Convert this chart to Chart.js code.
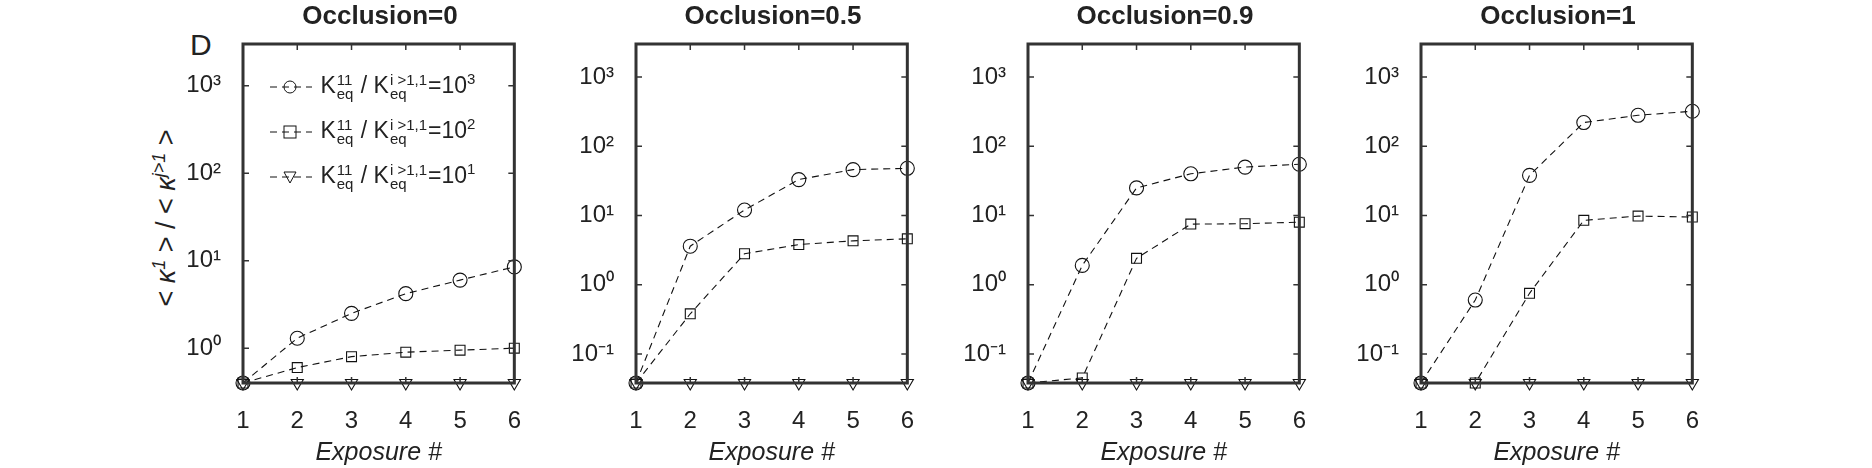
<!DOCTYPE html>
<html><head><meta charset="utf-8">
<script src="https://cdn.jsdelivr.net/npm/chart.js@4"></script>
<style>
body{margin:0;width:1872px;height:468px;background:#fff;position:relative;overflow:hidden;font-family:"Liberation Sans",Arial,sans-serif;color:#222}
.pan{position:absolute;top:0;width:404px;height:468px}
.ttl{position:absolute;top:0;font-weight:bold;font-size:26px;text-align:center;width:274px}
.leg{position:absolute;left:268px;font-size:23px;white-space:nowrap;line-height:32px}
.leg svg{vertical-align:middle}
.st{display:inline-flex;flex-direction:column;vertical-align:middle;font-size:15px;line-height:14px;margin:0 1px}
sup{font-size:15px;line-height:0}
</style></head><body>
<div style="position:absolute;left:190px;top:28px;font-size:30px">D</div>
<div style="position:absolute;left:166px;top:218px;transform:translate(-50%,-50%) rotate(-90deg);font-size:27px;white-space:nowrap">&lt; <i>κ</i><sup style="font-size:18px"><i>1</i></sup> &gt; / &lt; <i>κ</i><sup style="font-size:18px"><i>j&gt;1</i></sup> &gt;</div>
<script>
const exposure=[1,2,3,4,5,6];
const titles=["Occlusion=0","Occlusion=0.5","Occlusion=0.9","Occlusion=1"];
const yMin=[0.4,0.038,0.038,0.038];
const yMax=3000;
const yTicks=[[1,10,100,1000],[0.1,1,10,100,1000],[0.1,1,10,100,1000],[0.1,1,10,100,1000]];
const ratio1000=[[0.4,1.3,2.5,4.2,6,8.5],[0.038,3.6,12,33,46,48],[0.038,1.9,25,40,50,55],[0.038,0.6,38,220,280,320]];
const ratio100=[[0.4,0.6,0.8,0.9,0.95,1.0],[0.038,0.38,2.8,3.8,4.3,4.6],[0.038,0.045,2.4,7.5,7.6,8],[0.038,0.038,0.75,8.5,9.8,9.5]];
const ratio10=[[0.4,0.4,0.4,0.4,0.4,0.4],[0.038,0.038,0.038,0.038,0.038,0.038],[0.038,0.038,0.038,0.038,0.038,0.038],[0.038,0.038,0.038,0.038,0.038,0.038]];
const legendLabels=["3","2","1"];
const plotLefts=[243,636,1028,1421];
const sup={"-":"⁻","0":"⁰","1":"¹","2":"²","3":"³"};
const supStr=s=>String(s).split("").map(c=>sup[c]).join("");

const boxPlugin={id:'box',afterDatasetsDraw(c){const a=c.chartArea,g=c.ctx,x=c.scales.x,y=c.scales.y;g.save();g.strokeStyle='#333';g.lineWidth=1.5;
 g.beginPath();x.ticks.forEach(t=>{const p=x.getPixelForValue(t.value);g.moveTo(p,a.bottom);g.lineTo(p,a.bottom-6);g.moveTo(p,a.top);g.lineTo(p,a.top+6);});
 y.ticks.forEach(t=>{const p=y.getPixelForValue(t.value);g.moveTo(a.left,p);g.lineTo(a.left+6,p);g.moveTo(a.right,p);g.lineTo(a.right-6,p);});g.stroke();
 g.lineWidth=3;g.strokeRect(a.left,a.top,a.right-a.left,a.bottom-a.top);g.restore();}};

titles.forEach((t,i)=>{
 const d=document.createElement('div');d.className='pan';d.style.left=(plotLefts[i]-110)+'px';
 const cv=document.createElement('canvas');cv.width=404;cv.height=468;d.appendChild(cv);document.body.appendChild(d);
 const tt=document.createElement('div');tt.className='ttl';tt.style.left=plotLefts[i]+'px';tt.textContent=t;document.body.appendChild(tt);
 const mk=(vals,style,rot)=>({data:exposure.map((e,k)=>({x:e,y:vals[k]})),borderColor:'#111',borderWidth:1.1,borderDash:[7,5],pointStyle:style,pointRotation:rot,pointRadius:7,pointBorderWidth:1.1,pointBorderColor:'#111',pointBackgroundColor:'rgba(0,0,0,0)',fill:false,clip:false});
 new Chart(cv,{type:'line',data:{datasets:[mk(ratio1000[i],'circle',0),mk(ratio100[i],'rect',0),mk(ratio10[i],'triangle',180)]},
 options:{responsive:false,animation:false,events:[],devicePixelRatio:1,layout:{padding:{top:44,right:20}},
  plugins:{legend:{display:false},tooltip:{enabled:false}},
  scales:{x:{type:'linear',min:1,max:6,grid:{display:false},border:{display:false},
    ticks:{stepSize:1,color:'#222',font:{size:24,family:'Liberation Sans'},padding:16},
    title:{display:true,text:'Exposure #',color:'#222',font:{size:25,style:'italic',family:'Liberation Sans'},padding:0},
    afterFit:s=>{s.height=85;}},
   y:{type:'logarithmic',min:yMin[i],max:yMax,grid:{display:false},border:{display:false},
    afterBuildTicks:s=>{s.ticks=yTicks[i].map(v=>({value:v}));},
    ticks:{color:'#222',font:{size:24,family:'Liberation Sans'},padding:14,callback:v=>'10'+supStr(Math.round(Math.log10(v)))},
    afterFit:s=>{s.width=110;}}}},
  plugins:[boxPlugin]});
});
const marks=['<circle cx="22" cy="12" r="6" fill="none" stroke="#111"/>','<rect x="16" y="6" width="12" height="12" fill="none" stroke="#111"/>','<path d="M16 7 L28 7 L22 18 Z" fill="none" stroke="#111"/>'];
[85,130,175].forEach((yy,k)=>{const l=document.createElement('div');l.className='leg';l.style.top=(yy-16)+'px';
 l.innerHTML='<svg width="46" height="24"><line x1="2" y1="12" x2="44" y2="12" stroke="#111" stroke-dasharray="7,5"/>'+marks[k]+'</svg> K<span class="st"><span>11</span><span>eq</span></span> / K<span class="st"><span>i &gt;1,1</span><span>eq</span></span>=10<sup>'+legendLabels[k]+'</sup>';
 document.body.appendChild(l);});
</script></body></html>
